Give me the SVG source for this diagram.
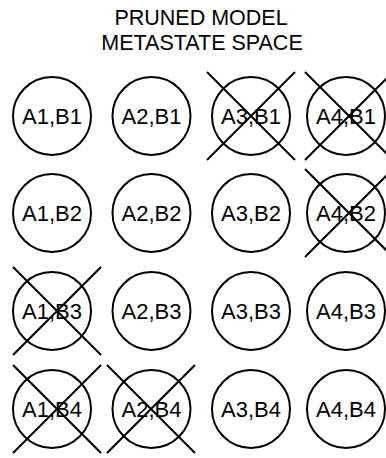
<svg xmlns="http://www.w3.org/2000/svg" width="386" height="458" viewBox="0 0 386 458">
<style>
.c{fill:#fff;stroke:#000;stroke-width:2}
.t{font-family:"Liberation Sans",Arial,sans-serif;font-size:22px;fill:#000;text-anchor:middle}
.x{stroke:#000;stroke-width:2;fill:none}
.h{font-family:"Liberation Sans",Arial,sans-serif;font-size:21.5px;fill:#000;text-anchor:middle}
</style>
<rect width="386" height="458" fill="#fff"/>
<g id="title">
<text class="h" x="201" y="25">PRUNED MODEL</text>
<text class="h" x="202" y="50">METASTATE SPACE</text>
</g>
<g id="n11"><circle class="c" cx="52" cy="116" r="39"/><text class="t" x="52" y="124">A1,B1</text></g>
<g id="n21"><circle class="c" cx="151.5" cy="116" r="39"/><text class="t" x="151.5" y="124">A2,B1</text></g>
<g id="n31"><circle class="c" cx="251" cy="116" r="39"/><text class="t" x="251" y="124">A3,B1</text><path class="x" d="M207 72L295 160M295 72L207 160"/></g>
<g id="n41"><circle class="c" cx="346" cy="116" r="39"/><text class="t" x="346" y="124">A4,B1</text><path class="x" d="M305 72L393 160M393 72L305 160"/></g>
<g id="n12"><circle class="c" cx="52" cy="213" r="39"/><text class="t" x="52" y="221">A1,B2</text></g>
<g id="n22"><circle class="c" cx="151.5" cy="213" r="39"/><text class="t" x="151.5" y="221">A2,B2</text></g>
<g id="n32"><circle class="c" cx="251" cy="213" r="39"/><text class="t" x="251" y="221">A3,B2</text></g>
<g id="n42"><circle class="c" cx="346" cy="213" r="39"/><text class="t" x="346" y="221">A4,B2</text><path class="x" d="M305 169L393 257M393 169L305 257"/></g>
<g id="n13"><circle class="c" cx="52" cy="311" r="39"/><text class="t" x="52" y="319">A1,B3</text><path class="x" d="M13 267L101 355M101 267L13 355"/></g>
<g id="n23"><circle class="c" cx="151.5" cy="311" r="39"/><text class="t" x="151.5" y="319">A2,B3</text></g>
<g id="n33"><circle class="c" cx="251" cy="311" r="39"/><text class="t" x="251" y="319">A3,B3</text></g>
<g id="n43"><circle class="c" cx="346" cy="311" r="39"/><text class="t" x="346" y="319">A4,B3</text></g>
<g id="n14"><circle class="c" cx="52" cy="409" r="39"/><text class="t" x="52" y="417">A1,B4</text><path class="x" d="M13 365L101 453M101 365L13 453"/></g>
<g id="n24"><circle class="c" cx="151.5" cy="409" r="39"/><text class="t" x="151.5" y="417">A2,B4</text><path class="x" d="M107 365L195 453M195 365L107 453"/></g>
<g id="n34"><circle class="c" cx="251" cy="409" r="39"/><text class="t" x="251" y="417">A3,B4</text></g>
<g id="n44"><circle class="c" cx="346" cy="409" r="39"/><text class="t" x="346" y="417">A4,B4</text></g>
<g id="connectors"></g>
</svg>
